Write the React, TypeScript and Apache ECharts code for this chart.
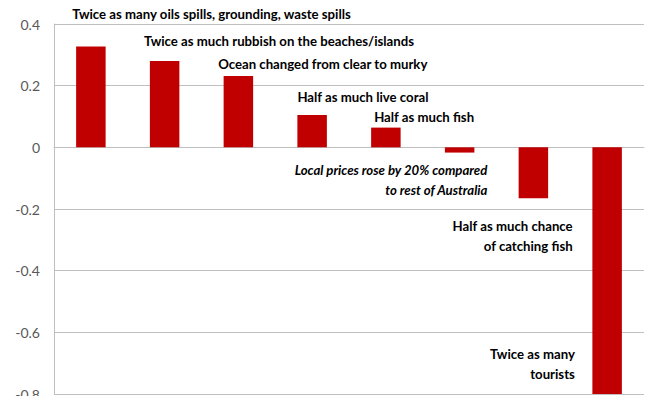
import React, { useEffect, useRef } from "react";
import * as echarts from "echarts";

const categories = [
  "Oil spills",
  "Rubbish",
  "Ocean clarity",
  "Live coral",
  "Fish",
  "Local prices",
  "Chance of catching fish",
  "Tourists",
];
const values = [0.327, 0.28, 0.231, 0.105, 0.064, -0.017, -0.165, -0.85];
const annotations = [
  "Twice as many oils spills, grounding, waste spills",
  "Twice as much rubbish on the beaches/islands",
  "Ocean changed from clear to murky",
  "Half as much live coral",
  "Half as much fish",
  "Local prices rose by 20% compared\nto rest of Australia",
  "Half as much chance\nof catching fish",
  "Twice as many\ntourists",
];
const yTicks = { min: -0.8, max: 0.4, interval: 0.2 };

// label placement relative to each bar's rect top-left (style only)
const labelPlacement: { pos: [number, number]; align: string; italic?: boolean }[] = [
  { pos: [-4, -32.5], align: "left" },
  { pos: [-6, -20], align: "left" },
  { pos: [-5.5, -12.5], align: "left" },
  { pos: [0, -17.7], align: "left" },
  { pos: [3, -10.3], align: "left" },
  { pos: [42.5, 33], align: "right", italic: true },
  { pos: [54, 88.5], align: "right" },
  { pos: [-17.5, 216.5], align: "right" },
];

export default function App() {
  const ref = useRef<HTMLDivElement>(null);
  useEffect(() => {
    if (!ref.current) return;
    const chart = echarts.init(ref.current, undefined, { renderer: "svg" });
    const fontFamily = "Lato, 'Open Sans', sans-serif";
    chart.setOption({
      animation: false,
      backgroundColor: "#ffffff",
      grid: {
        left: 54,
        right: 3,
        top: 24,
        bottom: 2,
        containLabel: false,
        outerBoundsMode: "none",
      },
      xAxis: {
        type: "category",
        data: categories,
        axisLabel: { show: false },
        axisTick: { show: false },
        axisLine: { show: true, lineStyle: { color: "#bfbfbf", width: 1 } },
      },
      yAxis: {
        type: "value",
        min: yTicks.min,
        max: yTicks.max,
        interval: yTicks.interval,
        axisLine: { show: true, lineStyle: { color: "#bfbfbf", width: 1 } },
        axisTick: { show: false },
        splitLine: { show: true, lineStyle: { color: "#bfbfbf", width: 1 } },
        axisLabel: {
          color: "#595959",
          fontSize: 14,
          fontFamily,
          margin: 14,
          formatter: (v: number) => {
            const r = Math.round(v * 10) / 10;
            return r === 0 ? "0" : String(r);
          },
        },
      },
      series: [
        {
          type: "bar",
          barWidth: "40%",
          clip: true,
          itemStyle: { color: "#C00000" },
          data: values.map((v, i) => ({
            value: v,
            label: {
              show: true,
              formatter: annotations[i],
              position: labelPlacement[i].pos,
              align: labelPlacement[i].align,
              verticalAlign: "middle",
              color: "#000000",
              fontWeight: "bold",
              fontStyle: labelPlacement[i].italic ? "italic" : "normal",
              fontSize: 13.2,
              lineHeight: 20,
              fontFamily,
            },
          })),
        },
      ],
    });
    return () => chart.dispose();
  }, []);
  return (
    <div
      ref={ref}
      style={{ position: "fixed", left: 0, top: 0, width: 647, height: 396 }}
    />
  );
}
